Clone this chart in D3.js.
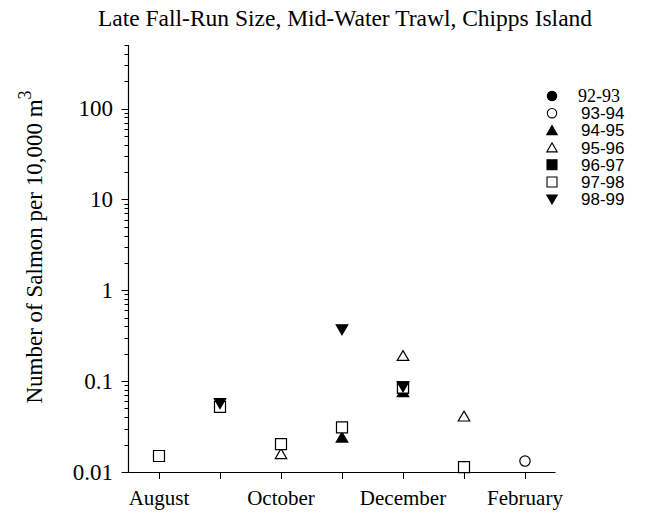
<!DOCTYPE html>
<html><head><meta charset="utf-8">
<script src="https://cdn.jsdelivr.net/npm/d3@7"></script>
<style>body{margin:0;background:#fff}</style>
</head><body>
<svg id="c" width="646" height="512"></svg>
<script>
const months = ["August","September","October","November","December","January","February"];
const monthLabels = ["August","","October","","December","","February"];
const seriesNames = ["92-93","93-94","94-95","95-96","96-97","97-98","98-99"];
const seriesSymbols = ["circle","circle","triangle","triangle","square","square","triangleDown"];
const seriesFilled = [true,false,true,false,true,false,true];
// values per series: [monthIndex, value]
const s9293 = [];
const s9394 = [[6,0.0132]];
const s9495 = [[3,0.024],[4,0.076]];
const s9596 = [[2,0.0158],[4,0.19],[5,0.041]];
const s9697 = [[4,0.085]];
const s9798 = [[0,0.015],[1,0.052],[2,0.0203],[3,0.031],[4,0.085],[5,0.0113]];
const s9899 = [[1,0.057],[3,0.37],[4,0.087]];
const seriesData = [s9293,s9394,s9495,s9596,s9697,s9798,s9899];
const yTicks = [0.01,0.1,1,10,100];
const yTickLabels = ["0.01","0.1","1","10","100"];

const serif = "Liberation Serif, Times New Roman, serif";
const sans = "Liberation Sans, Arial, sans-serif";
const svg = d3.select("#c");
const x0 = 128.5, x1 = 555.5, yTop = 45, yBot = 472;
const x = d3.scaleLinear().domain([-0.5,6.5]).range([x0,x1]);
const y = d3.scaleLog().domain([0.01,500]).range([yBot,yTop]);

// axes lines
svg.append("line").attr("x1",x0).attr("x2",x0).attr("y1",yTop).attr("y2",yBot+0.5).attr("stroke","#000").attr("stroke-width",1.2);
svg.append("line").attr("x1",x0).attr("x2",x1).attr("y1",yBot+0.5).attr("y2",yBot+0.5).attr("stroke","#000").attr("stroke-width",1.2);

// y ticks major + minor
const minor = [];
for (let e=-2;e<=2;e++) for (let m=2;m<=9;m++){const v=m*Math.pow(10,e); if(v<=500) minor.push(v);}
svg.append("g").selectAll("line").data(minor).join("line")
  .attr("x1",x0-4).attr("x2",x0).attr("y1",d=>Math.round(y(d))+0.5).attr("y2",d=>Math.round(y(d))+0.5)
  .attr("stroke","#000").attr("stroke-width",1);
svg.append("g").selectAll("line").data(yTicks).join("line")
  .attr("x1",x0-7).attr("x2",x0).attr("y1",d=>Math.round(y(d))+0.5).attr("y2",d=>Math.round(y(d))+0.5)
  .attr("stroke","#000").attr("stroke-width",1);
svg.append("g").selectAll("text").data(yTicks).join("text")
  .attr("x",113).attr("y",d=>y(d)+7.5).attr("text-anchor","end")
  .attr("font-family",serif).attr("font-size",23)
  .text((d,i)=>yTickLabels[i]);

// x ticks
svg.append("g").selectAll("line").data(months).join("line")
  .attr("x1",(d,i)=>Math.round(x(i))+0.5).attr("x2",(d,i)=>Math.round(x(i))+0.5)
  .attr("y1",yBot).attr("y2",yBot+7).attr("stroke","#000").attr("stroke-width",1);
svg.append("g").selectAll("text").data(monthLabels).join("text")
  .attr("x",(d,i)=>x(i)).attr("y",505).attr("text-anchor","middle")
  .attr("font-family",serif).attr("font-size",21)
  .text(d=>d);

// title
svg.append("text").attr("x",345).attr("y",26).attr("text-anchor","middle")
  .attr("font-family",serif).attr("font-size",23.5)
  .text("Late Fall-Run Size, Mid-Water Trawl, Chipps Island");

// y label
const yl = svg.append("text").attr("transform","translate(42,247) rotate(-90)").attr("text-anchor","middle")
  .attr("font-family",serif).attr("font-size",23);
yl.append("tspan").text("Number of Salmon per 10,000 m");
yl.append("tspan").attr("dy",-11).attr("font-size",18).text("3");

function symPath(sym, size){
  if (sym==="circle") return d3.symbol(d3.symbolCircle, size*size*0.7)();
  if (sym==="square") { const h=size/2; return `M${-h},${-h}H${h}V${h}H${-h}Z`; }
  if (sym==="triangle") { const h=size/2; return `M0,${-h*0.95}L${h*1.05},${h*0.85}L${-h*1.05},${h*0.85}Z`; }
  if (sym==="triangleDown") { const h=size/2; return `M0,${h*0.95}L${h*1.05},${-h*0.85}L${-h*1.05},${-h*0.85}Z`; }
}

// points
seriesData.forEach((data,si)=>{
  svg.append("g").selectAll("path").data(data).join("path")
    .attr("transform",d=>`translate(${x(d[0])},${y(d[1])})`)
    .attr("d",symPath(seriesSymbols[si],11))
    .attr("fill",seriesFilled[si]?"#000":"#fff")
    .attr("stroke","#000").attr("stroke-width",1.2);
});

// legend
const lg = svg.append("g");
seriesNames.forEach((n,i)=>{
  const cy = 96 + i*17.2;
  lg.append("path").attr("transform",`translate(552,${cy})`)
    .attr("d",symPath(seriesSymbols[i],10))
    .attr("fill",seriesFilled[i]?"#000":"#fff").attr("stroke","#000").attr("stroke-width",1.1);
  lg.append("text").attr("x", i===0?578:581).attr("y",cy+6)
    .attr("font-family", i===0?serif:sans)
    .attr("font-size",i===0?18:17).text(n);
});
</script>
</body></html>
